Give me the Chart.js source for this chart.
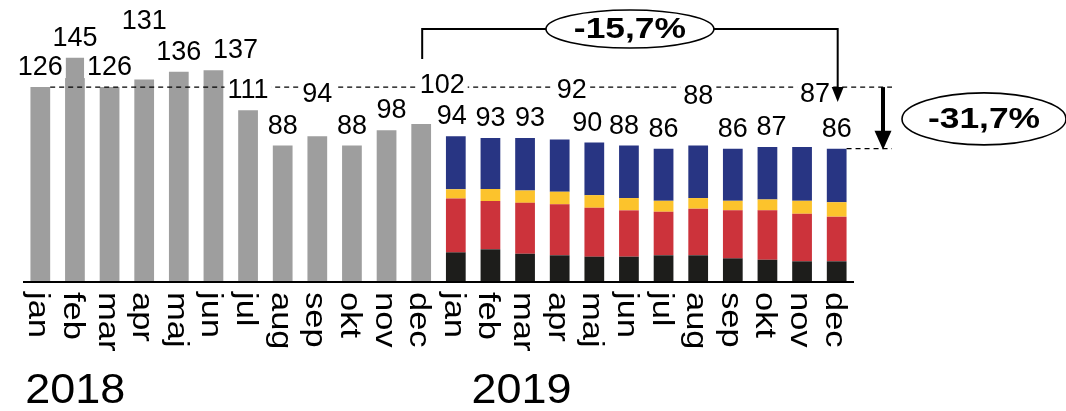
<!DOCTYPE html>
<html>
<head>
<meta charset="utf-8">
<script src="https://cdn.jsdelivr.net/npm/chart.js@4/dist/chart.umd.min.js"></script>
<style>
  html, body { margin: 0; padding: 0; background: #fff; }
  canvas { display: block; }
</style>
</head>
<body>
<canvas id="myChart" width="1066" height="411"></canvas>
<script>
(() => {
    'use strict'

    const months = ['jan', 'feb', 'mar', 'apr', 'maj', 'jun', 'jul', 'aug', 'sep', 'okt', 'nov', 'dec']
    const years = ['2018', '2019']

    // 2018 totals
    const total2018 = [126, 145, 126, 131, 136, 137, 111, 88, 94, 88, 98, 102]
    // 2019 split into four parts
    const black2019 = [18.6, 20.6, 17.7, 16.7, 15.8, 15.8, 16.7, 16.7, 14.7, 13.8, 12.8, 12.8]
    const red2019 = [35.0, 31.4, 33.1, 33.1, 31.8, 30.1, 28.3, 30.3, 31.2, 32.1, 30.9, 29.0]
    const yellow2019 = [6.0, 7.8, 8.0, 8.2, 8.2, 8.0, 7.1, 6.9, 6.2, 7.1, 8.4, 9.4]
    const blue2019 = [34.4, 33.2, 34.2, 34.0, 34.2, 34.1, 33.9, 34.1, 33.9, 34.0, 34.9, 34.8]

    const labels = months.concat(months)
    const empty = months.map(() => null)
    const totals2019 = months.map((m, i) => black2019[i] + red2019[i] + yellow2019[i] + blue2019[i])
    const totals = total2018.concat(totals2019)

    // nudges for value labels that would collide [dx, dy]
    const labelShift = {
        3: [0, -38], 5: [22, 0], 8: [0, -22], 10: [5, 0], 11: [21, -19],
        12: [-4, 0], 14: [5, 0], 15: [12, -29], 16: [-7, 0], 17: [-5, 0],
        19: [0, -30], 21: [4, 0], 22: [13, -33]
    }

    const FONT = "'Liberation Sans', Arial, sans-serif"

    const pct = (from, to) => ((to / from - 1) * 100).toFixed(1).replace('.', ',') + '%'

    const ellipseLabel = (c, cx, cy, rx, ry, text) => {
        c.save()
        c.fillStyle = '#fff'
        c.strokeStyle = '#000'
        c.lineWidth = 1.6
        c.beginPath()
        c.ellipse(cx, cy, rx, ry, 0, 0, Math.PI * 2)
        c.fill()
        c.stroke()
        c.fillStyle = '#000'
        c.font = 'bold 30px ' + FONT
        c.textAlign = 'center'
        c.textBaseline = 'middle'
        c.translate(cx, cy + 1)
        c.scale(1.18, 1)
        c.fillText(text, 0, 0)
        c.restore()
    }

    const arrowHead = (c, x, tipY, w, h) => {
        c.beginPath()
        c.moveTo(x - w / 2, tipY - h)
        c.lineTo(x + w / 2, tipY - h)
        c.lineTo(x, tipY)
        c.closePath()
        c.fill()
    }

    const decorations = {
        id: 'decorations',
        afterDatasetsDraw(chart) {
            const c = chart.ctx
            const x = chart.scales.x
            const y = chart.scales.y
            const area = chart.chartArea
            const bars = chart.getDatasetMeta(0).data
            const halfW = bars[0].width / 2
            const n = totals.length

            // axis line
            c.save()
            c.strokeStyle = '#000'
            c.lineWidth = 2
            c.beginPath()
            c.moveTo(area.left, area.bottom + 1)
            c.lineTo(area.right, area.bottom + 1)
            c.stroke()

            // reference lines
            const yStart = y.getPixelForValue(total2018[0])
            const yEnd = y.getPixelForValue(totals[n - 1])
            const xRight = area.right + 38
            c.lineWidth = 1.3
            c.setLineDash([5, 4])
            c.beginPath()
            c.moveTo(x.getPixelForValue(0) + halfW, yStart)
            c.lineTo(xRight, yStart)
            c.moveTo(x.getPixelForValue(n - 1) + halfW, yEnd)
            c.lineTo(xRight, yEnd)
            c.stroke()
            c.setLineDash([])

            // value labels
            c.font = '27px ' + FONT
            c.textAlign = 'center'
            c.textBaseline = 'alphabetic'
            totals.forEach((v, i) => {
                const s = labelShift[i] || [0, 0]
                const txt = String(Math.round(v))
                const lx = x.getPixelForValue(i) + s[0]
                const ly = y.getPixelForValue(v) - 12 + s[1]
                const w = c.measureText(txt).width
                c.fillStyle = '#fff'
                c.fillRect(lx - w / 2 - 3, ly - 21, w + 6, 24)
                c.fillStyle = '#000'
                c.fillText(txt, lx, ly)
            })

            // bracket dec 2018 -> dec 2019
            const bx1 = x.getPixelForValue(11) + 1
            const bx2 = x.getPixelForValue(n - 1) + 1
            const by = 29
            c.strokeStyle = '#000'
            c.fillStyle = '#000'
            c.lineWidth = 2
            c.beginPath()
            c.moveTo(bx1, 59)
            c.lineTo(bx1, by)
            c.lineTo(bx2, by)
            c.lineTo(bx2, 88)
            c.stroke()
            arrowHead(c, bx2, 102, 12, 15)
            ellipseLabel(c, (bx1 + bx2) / 2, by, 84, 19, pct(total2018[11], totals[n - 1]))

            // drop from jan 2018 to dec 2019
            const ax = area.right + 29
            c.lineWidth = 4
            c.beginPath()
            c.moveTo(ax, yStart)
            c.lineTo(ax, yEnd - 16)
            c.stroke()
            arrowHead(c, ax, yEnd + 1, 17, 19)
            ellipseLabel(c, ax + 101, (yStart + yEnd) / 2 + 1, 82, 26, pct(total2018[0], totals[n - 1]))

            // month labels, read top to bottom
            c.font = '30px ' + FONT
            c.textAlign = 'left'
            c.textBaseline = 'alphabetic'
            c.fillStyle = '#000'
            labels.forEach((m, i) => {
                c.save()
                c.translate(x.getPixelForValue(i) - 3, area.bottom + 11)
                c.rotate(Math.PI / 2)
                c.scale(1.15, 1)
                c.fillText(m, 0, 8)
                c.restore()
            })

            // years
            c.font = '42px ' + FONT
            ;[[0, -15], [13, -19]].forEach(([idx, dx], k) => {
                c.save()
                c.translate(x.getPixelForValue(idx) + dx, 403)
                c.scale(1.07, 1)
                c.fillText(years[k], 0, 0)
                c.restore()
            })
            c.restore()
        }
    }

    const ctx = document.getElementById('myChart')
    // eslint-disable-next-line no-unused-vars
    const myChart = new Chart(ctx, {
        type: 'bar',
        data: {
            labels: labels,
            datasets: [
                { data: total2018.concat(empty), backgroundColor: '#9e9e9e' },
                { data: empty.concat(black2019), backgroundColor: '#1d1d1b' },
                { data: empty.concat(red2019), backgroundColor: '#cc333b' },
                { data: empty.concat(yellow2019), backgroundColor: '#fcc32c' },
                { data: empty.concat(blue2019), backgroundColor: '#283583' }
            ]
        },
        options: {
            responsive: false,
            animation: false,
            layout: {
                padding: { left: 23, right: 212, top: 4, bottom: 130 }
            },
            datasets: {
                bar: {
                    barPercentage: 0.57,
                    categoryPercentage: 1,
                    borderWidth: 0
                }
            },
            scales: {
                x: { stacked: true, display: false },
                y: { stacked: true, display: false, min: 0, max: 180 }
            },
            plugins: {
                legend: { display: false },
                tooltip: { enabled: false }
            }
        },
        plugins: [decorations]
    })
})()
</script>
</body>
</html>
